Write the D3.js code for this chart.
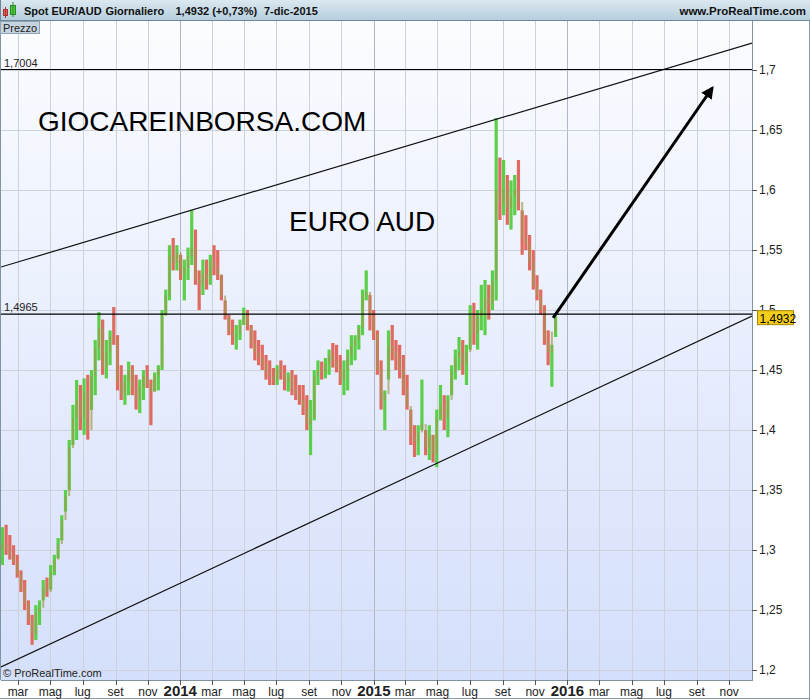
<!DOCTYPE html>
<html><head><meta charset="utf-8">
<script src="https://cdn.jsdelivr.net/npm/d3@7"></script>
<style>body{margin:0;background:#fff}svg{display:block}text{font-family:"Liberation Sans",Arial,sans-serif}</style>
</head><body><svg id="c" width="810" height="700"></svg>
<script>
// ---- data (weekly bars) ----
const weekStart = new Date(2013, 0, 28), weekEnd = new Date(2015, 11, 8);
const highs = [1.319,1.321,1.3125,1.304,1.296,1.283,1.275,1.258,1.246,1.254,1.258,1.275,1.277,1.2875,1.296,1.31,1.329,1.35,1.3917,1.421,
1.4417,1.4375,1.443,1.446,1.45,1.475,1.4983,1.492,1.475,1.483,1.5025,1.479,1.454,1.446,1.457,1.454,1.446,1.442,1.45,1.454,
1.442,1.448,1.454,1.5,1.517,1.554,1.56,1.554,1.546,1.542,1.552,1.583,1.567,1.533,1.542,1.542,1.546,1.554,1.55,1.529,
1.508,1.496,1.492,1.4875,1.492,1.502,1.5,1.4875,1.483,1.475,1.471,1.4625,1.458,1.4517,1.454,1.458,1.454,1.448,1.45,1.446,
1.4375,1.4375,1.429,1.425,1.45,1.458,1.457,1.46,1.467,1.4725,1.471,1.4625,1.458,1.467,1.479,1.479,1.4875,1.517,1.533,1.5125,
1.5,1.483,1.458,1.433,1.483,1.4875,1.475,1.471,1.4625,1.446,1.417,1.404,1.404,1.442,1.4,1.404,1.396,1.417,1.4375,1.429,
1.429,1.454,1.467,1.4775,1.475,1.471,1.504,1.506,1.5,1.521,1.525,1.521,1.533,1.66,1.627,1.625,1.6125,1.608,1.6125,1.625,
1.583,1.579,1.5625,1.55,1.529,1.517,1.504,1.483,1.471,1.495];
const lows = [1.2875,1.296,1.292,1.2875,1.277,1.265,1.25,1.2375,1.221,1.225,1.2375,1.258,1.261,1.267,1.279,1.293,1.308,1.332,1.35,1.3875,
1.3917,1.4,1.396,1.392,1.4167,1.429,1.458,1.446,1.443,1.454,1.471,1.433,1.425,1.421,1.429,1.429,1.417,1.414,1.425,1.435,
1.404,1.432,1.433,1.45,1.496,1.508,1.533,1.533,1.525,1.508,1.525,1.5375,1.521,1.5,1.5125,1.517,1.521,1.529,1.525,1.508,
1.492,1.479,1.471,1.467,1.475,1.4875,1.483,1.468,1.458,1.454,1.45,1.442,1.4375,1.4375,1.4375,1.442,1.433,1.432,1.429,1.425,
1.421,1.4125,1.4,1.379,1.408,1.4375,1.442,1.443,1.446,1.452,1.448,1.4375,1.429,1.433,1.454,1.458,1.467,1.479,1.508,1.483,
1.475,1.446,1.417,1.4,1.442,1.458,1.45,1.443,1.429,1.417,1.3875,1.3775,1.379,1.4,1.379,1.375,1.373,1.369,1.408,1.4,
1.394,1.429,1.442,1.45,1.446,1.4375,1.467,1.471,1.467,1.483,1.479,1.492,1.5,1.508,1.575,1.579,1.571,1.567,1.579,1.583,
1.546,1.55,1.533,1.517,1.508,1.496,1.471,1.454,1.436,1.4775];
const closes = [1.305,1.3,1.295,1.29,1.28,1.268,1.255,1.242,1.23,1.248,1.252,1.268,1.265,1.282,1.292,1.305,1.325,1.345,1.385,1.41,
1.425,1.41,1.432,1.4,1.445,1.468,1.485,1.452,1.465,1.478,1.476,1.44,1.43,1.44,1.45,1.435,1.425,1.436,1.445,1.438,
1.432,1.445,1.452,1.495,1.512,1.545,1.54,1.548,1.53,1.535,1.545,1.552,1.525,1.522,1.53,1.525,1.54,1.535,1.53,1.512,
1.495,1.482,1.478,1.48,1.488,1.495,1.486,1.472,1.465,1.46,1.455,1.448,1.445,1.442,1.45,1.448,1.44,1.444,1.435,1.43,
1.425,1.418,1.405,1.41,1.445,1.45,1.448,1.455,1.462,1.458,1.452,1.442,1.45,1.462,1.47,1.475,1.485,1.512,1.515,1.495,
1.48,1.45,1.425,1.43,1.47,1.465,1.46,1.45,1.435,1.42,1.395,1.39,1.398,1.405,1.385,1.395,1.38,1.41,1.42,1.41,
1.425,1.448,1.46,1.465,1.455,1.465,1.495,1.48,1.495,1.5,1.51,1.505,1.525,1.6,1.59,1.6,1.585,1.595,1.6,1.59,
1.56,1.555,1.54,1.52,1.512,1.5,1.475,1.465,1.482,1.4932];
const firstOpen = 1.30;
const levels = [{v:1.7004,label:"1,7004"},{v:1.4965,label:"1,4965"}];
const upperChannel = [{d:new Date(2013,0,28),v:1.5358},{d:new Date(2016,11,14),v:1.7225}];
const lowerChannel = [{d:new Date(2013,0,28),v:1.2025},{d:new Date(2016,11,14),v:1.495}];
const arrowPts = [{d:new Date(2015,11,5),v:1.4935},{d:new Date(2016,8,30),v:1.685}];
const yTicks = [1.2,1.25,1.3,1.35,1.4,1.45,1.5,1.55,1.6,1.65,1.7];
const monthNames = {2:"mar",4:"mag",6:"lug",8:"set",10:"nov"};
const lastPrice = 1.4932;

// ---- layout ----
const L=1, R=752, T=21, B=680;
const svg = d3.select("#c");
const x = d3.scaleTime().domain([new Date(2013,0,28), new Date(2016,11,14)]).range([L,R]);
const y = d3.scaleLinear().domain([1.2,1.7]).range([670,70]);
const fmt = v => String(+v.toFixed(4)).replace(".",",");

const defs = svg.append("defs");
const gBg = defs.append("linearGradient").attr("id","bg").attr("x1",0).attr("y1",0).attr("x2",0).attr("y2",1);
gBg.append("stop").attr("offset","0%").attr("stop-color","#fbfcff");
gBg.append("stop").attr("offset","100%").attr("stop-color","#d4dffb");
const gHd = defs.append("linearGradient").attr("id","hd").attr("x1",0).attr("y1",0).attr("x2",0).attr("y2",1);
gHd.append("stop").attr("offset","0%").attr("stop-color","#dbe8f0");
gHd.append("stop").attr("offset","100%").attr("stop-color","#b6cedd");
defs.append("clipPath").attr("id","clip").append("rect").attr("x",L).attr("y",T).attr("width",R-L).attr("height",B-T);
defs.append("marker").attr("id","ah").attr("viewBox","0 0 10 10").attr("refX",8).attr("refY",5)
  .attr("markerWidth",4.2).attr("markerHeight",4.2).attr("orient","auto")
  .append("path").attr("d","M0,0 L10,5 L0,10 Z").attr("fill","#000");

// plot background
svg.append("rect").attr("x",L).attr("y",T).attr("width",R-L).attr("height",B-T).attr("fill","url(#bg)");

// grid
const monthTicks = d3.timeMonth.every(2).range(new Date(2013,1,1), new Date(2016,11,14)).filter(d=>x(d)>L+2);
svg.append("g").selectAll("line").data(monthTicks).join("line")
  .attr("x1",d=>Math.round(x(d))+0.5).attr("x2",d=>Math.round(x(d))+0.5).attr("y1",T).attr("y2",B)
  .attr("stroke",d=>d.getMonth()===0?"#b0b6c4":"#cdd1da").attr("stroke-width",1);
svg.append("g").selectAll("line").data(yTicks).join("line")
  .attr("x1",L).attr("x2",R).attr("y1",d=>Math.round(y(d))+0.5).attr("y2",d=>Math.round(y(d))+0.5)
  .attr("stroke","#cdd1da");

// bars
const dates = d3.timeMonday.range(weekStart, weekEnd);
const bars = dates.map((d,i)=>({d, h:highs[i], l:lows[i], c:closes[i], o: i?closes[i-1]:firstOpen}));
const gb = svg.append("g").attr("clip-path","url(#clip)");
gb.selectAll("rect.hl").data(bars).join("rect").attr("class","hl")
  .attr("x",b=>x(b.d)-0.2).attr("width",3.2).attr("y",b=>y(b.h)).attr("height",b=>Math.max(1,y(b.l)-y(b.h)))
  .attr("fill",b=>b.c>=b.o?"#5ccf4a":"#de6a60");
gb.selectAll("rect.oc").data(bars).join("rect").attr("class","oc")
  .attr("x",b=>x(b.d)+0.4).attr("width",2).attr("y",b=>y(Math.max(b.o,b.c))).attr("height",b=>Math.max(1,Math.abs(y(b.o)-y(b.c))))
  .attr("fill","#a09a4e").attr("opacity",0.7);

// channel & level lines
const line = d3.line().x(p=>x(p.d)).y(p=>y(p.v));
const gl = svg.append("g").attr("clip-path","url(#clip)");
gl.append("path").attr("d",line(upperChannel)).attr("stroke","#111").attr("stroke-width",1.2).attr("fill","none");
gl.append("path").attr("d",line(lowerChannel)).attr("stroke","#111").attr("stroke-width",1.2).attr("fill","none");
gl.selectAll("line.lv").data(levels).join("line").attr("class","lv")
  .attr("x1",L).attr("x2",R).attr("y1",d=>y(d.v)).attr("y2",d=>y(d.v)).attr("stroke","#000").attr("stroke-width",1.2);
svg.selectAll("text.lv").data(levels).join("text").attr("class","lv")
  .attr("x",4).attr("y",d=>y(d.v)-3).attr("font-size",11).attr("fill","#222").text(d=>d.label);
// arrow
svg.append("path").attr("d",line(arrowPts)).attr("stroke","#000").attr("stroke-width",3).attr("fill","none").attr("marker-end","url(#ah)");

// big labels
svg.append("text").attr("x",38).attr("y",131).attr("font-size",28).attr("fill","#000").text("GIOCAREINBORSA.COM");
svg.append("text").attr("x",289).attr("y",231).attr("font-size",28).attr("fill","#000").text("EURO AUD");
svg.append("text").attr("x",3).attr("y",677).attr("font-size",11).attr("fill","#222").text("© ProRealTime.com");

// frame
svg.append("line").attr("x1",L-0.5).attr("x2",L-0.5).attr("y1",T).attr("y2",B).attr("stroke","#7f93a3");
svg.append("line").attr("x1",R+0.5).attr("x2",R+0.5).attr("y1",T).attr("y2",B+1).attr("stroke","#7f93a3");
svg.append("line").attr("x1",L).attr("x2",R+1).attr("y1",B+0.5).attr("y2",B+0.5).attr("stroke","#7f93a3");
svg.append("line").attr("x1",809.5).attr("x2",809.5).attr("y1",0).attr("y2",700).attr("stroke","#8a9aa8");
svg.append("line").attr("x1",0).attr("x2",810).attr("y1",698.5).attr("y2",698.5).attr("stroke","#8a9aa8");

// y axis
const gy = svg.append("g");
gy.selectAll("line").data(yTicks).join("line").attr("x1",R).attr("x2",R+5)
  .attr("y1",d=>Math.round(y(d))+0.5).attr("y2",d=>Math.round(y(d))+0.5).attr("stroke","#555");
gy.selectAll("text").data(yTicks).join("text").attr("x",R+7).attr("y",d=>y(d)+4)
  .attr("font-size",12).attr("fill","#222").text(fmt);
// last price tag
svg.append("rect").attr("x",757.5).attr("y",y(lastPrice)-7.5).attr("width",36).attr("height",14)
  .attr("fill","#f5cf1c").attr("stroke","#a88600");
svg.append("text").attr("x",759.5).attr("y",y(lastPrice)+4.5).attr("font-size",12).attr("fill","#000").text(fmt(lastPrice));

// x axis
const gx = svg.append("g");
gx.selectAll("line").data(monthTicks).join("line")
  .attr("x1",d=>Math.round(x(d))+0.5).attr("x2",d=>Math.round(x(d))+0.5).attr("y1",B).attr("y2",B+5).attr("stroke","#555");
gx.selectAll("text").data(monthTicks).join("text")
  .attr("x",d=>x(d)).attr("y",696).attr("text-anchor","middle")
  .attr("font-size",d=>d.getMonth()===0?15:12).attr("font-weight",d=>d.getMonth()===0?"bold":"normal")
  .attr("fill","#222").text(d=>d.getMonth()===0?d.getFullYear():monthNames[d.getMonth()]);

// header
svg.append("rect").attr("x",0).attr("y",0).attr("width",810).attr("height",20).attr("fill","url(#hd)");
svg.append("line").attr("x1",0).attr("x2",810).attr("y1",20.5).attr("y2",20.5).attr("stroke","#6f8797");
svg.append("line").attr("x1",0.5).attr("x2",0.5).attr("y1",0).attr("y2",21).attr("stroke","#6f8797");
svg.append("rect").attr("x",3.5).attr("y",9.5).attr("width",4).attr("height",6).attr("fill","#e25b55").attr("stroke","#a33");
svg.append("line").attr("x1",5.5).attr("x2",5.5).attr("y1",7).attr("y2",18).attr("stroke","#a33");
svg.append("rect").attr("x",10.5).attr("y",5.5).attr("width",5).attr("height",9).attr("fill","#4ccd3e").attr("stroke","#2a8a22");
svg.append("line").attr("x1",13).attr("x2",13).attr("y1",2).attr("y2",17).attr("stroke","#2a8a22");
const hdr = [["Spot EUR/AUD",24],["Giornaliero",105.5],["1,4932 (+0,73%)",175.5],["7-dic-2015",264]];
svg.selectAll("text.hd").data(hdr).join("text").attr("class","hd").attr("x",d=>d[1]).attr("y",15)
  .attr("font-size",11).attr("font-weight","bold").attr("fill","#111").text(d=>d[0]);
svg.append("text").attr("x",806).attr("y",15).attr("text-anchor","end").attr("font-size",11.5).attr("font-weight","bold").attr("fill","#111").text("www.ProRealTime.com");
// Prezzo tag
svg.append("rect").attr("x",0.5).attr("y",21.5).attr("width",39).attr("height",12).attr("fill","#c6d4e0").attr("stroke","#8ea3b3");
svg.append("text").attr("x",3).attr("y",31.5).attr("font-size",11).attr("fill","#222").text("Prezzo");
</script></body></html>
